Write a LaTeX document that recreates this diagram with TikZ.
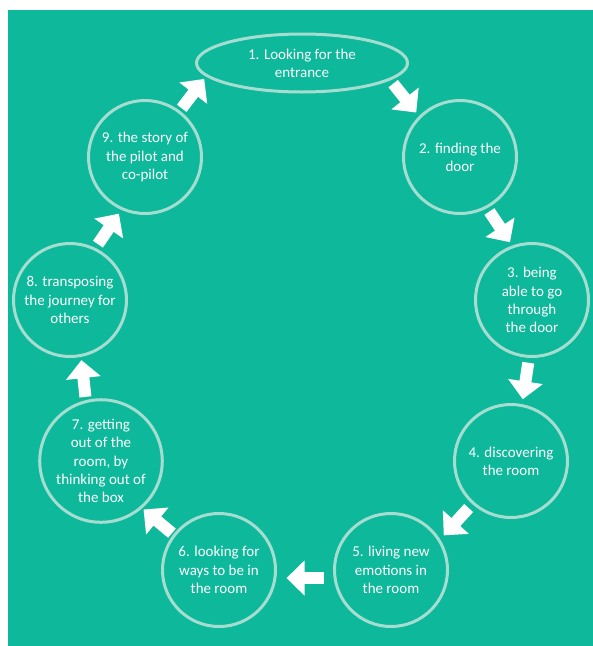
\documentclass[tikz,border=0pt]{standalone}
\usepackage{fontspec}
\setmainfont{Carlito}
\usetikzlibrary{shapes}
\usetikzlibrary{calc}
\usetikzlibrary{arrows.meta}
\definecolor{bgteal}{HTML}{0DB89B}
\definecolor{ringline}{HTML}{A5DDD0}
\providecommand*{\cycleArrow}[2]{%
    \path (#1) -- (#2) coordinate[midway] (mid);
    \draw[flow arrow] ($(mid)!18.5pt!(#1)$) -- ($(mid)!18.5pt!(#2)$);
}

\begin{document}
\begin{tikzpicture}[x=1pt, y=-1pt,
    stage/.style = {circle, draw = ringline, line width = 3pt, minimum size = 113pt,
        inner sep = 0pt, text = white, align = center,
        font = \fontsize{15}{18.3}\selectfont},
    flow arrow/.style = {white, line width = 12pt, -{Triangle[width = 34pt, length = 18pt]}}]

    \useasboundingbox (0,0) rectangle (593,646);
    \fill[bgteal] (8,10) rectangle (593,646);

    \node (n1) at (302,63) [stage, ellipse, minimum width = 211pt, minimum height = 58pt] {1. Looking for the\\entrance};
    \node (n2) at (460,157) [stage] {2. finding the\\door};
    \node (n3) at (532,300) [stage] {3. being\\able to go\\through\\the door};
    \node (n4) at (511,461) [stage] {4. discovering\\the room};
    \node (n5) at (391,570) [stage] {5. living new\\emotions in\\the room};
    \node (n6) at (219,570) [stage] {6. looking for\\ways to be in\\the room};
    \node (n7) at (101,461) [stage] {7. getting\\out of the\\room, by\\thinking out of\\the box};
    \node (n8) at (70,300) [stage] {8. transposing\\the journey for\\others};
    \node (n9) at (145,157) [stage] {9. the story of\\the pilot and\\co-pilot};

    \foreach \from/\to in {n1.349/n2.135, n2.298/n3.110, n3.267/n4.79, n4.228/n5.32,
                           n5.188/n6.352, n6.142/n7.311, n7.104/n8.281, n8.64/n9.246,
                           n9.53/n1.188}{
        \cycleArrow{\from}{\to}
    }

\end{tikzpicture}
\end{document}
